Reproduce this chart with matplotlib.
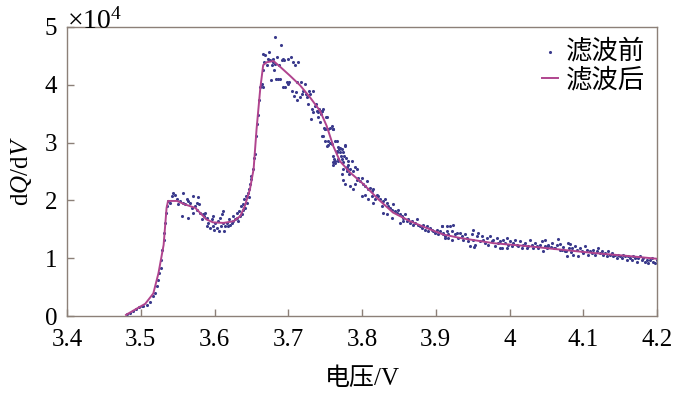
import numpy as np
import matplotlib
matplotlib.use("Agg")
import matplotlib.pyplot as plt

plt.rcParams['font.family'] = 'serif'
plt.rcParams['font.serif'] = ['Liberation Serif', 'DejaVu Serif']
plt.rcParams['mathtext.fontset'] = 'custom'
plt.rcParams['mathtext.rm'] = 'Liberation Serif'
plt.rcParams['mathtext.it'] = 'Liberation Serif:italic'

# filtered curve (x in V, y in 1e4)
curve_v = [3.480, 3.499, 3.506, 3.517, 3.524, 3.531, 3.535, 3.537, 3.549, 3.560,
           3.574, 3.580, 3.589, 3.598, 3.612, 3.626, 3.635, 3.641, 3.648, 3.653,
           3.657, 3.662, 3.666, 3.671, 3.680, 3.689, 3.702, 3.716, 3.729, 3.743,
           3.752, 3.761, 3.770, 3.784, 3.802, 3.822, 3.842, 3.865, 3.888, 3.910,
           3.933, 3.978, 4.023, 4.068, 4.114, 4.159, 4.200]
curve_q = [0.02, 0.16, 0.21, 0.39, 0.74, 1.23, 1.87, 1.99, 1.99, 1.93,
           1.87, 1.79, 1.67, 1.62, 1.61, 1.64, 1.73, 1.90, 2.19, 2.54,
           3.23, 3.93, 4.34, 4.39, 4.41, 4.31, 4.16, 3.99, 3.79, 3.55,
           3.29, 2.94, 2.68, 2.48, 2.28, 2.02, 1.79, 1.64, 1.52, 1.41,
           1.35, 1.26, 1.21, 1.15, 1.09, 1.04, 0.99]

# raw points: rise
rise_v = [3.482, 3.486, 3.490, 3.494, 3.498, 3.501, 3.5035, 3.508, 3.5125, 3.517,
          3.519, 3.522, 3.524, 3.525, 3.527, 3.528, 3.529, 3.531, 3.5315, 3.533,
          3.534, 3.535]
rise_q = [0.03, 0.06, 0.09, 0.12, 0.15, 0.18, 0.17, 0.19, 0.25, 0.34,
          0.39, 0.52, 0.63, 0.74, 0.83, 0.97, 1.15, 1.32, 1.44, 1.61,
          1.79, 1.90]

# raw points: first plateau
plat_v = [3.5375, 3.5397, 3.5420, 3.5442, 3.5465, 3.5487, 3.5510, 3.5533, 3.5555, 3.5569,
          3.5578, 3.5600, 3.5623, 3.5646, 3.5646, 3.5668, 3.5691, 3.5713, 3.5713, 3.5736,
          3.5759, 3.5768, 3.5781, 3.5795, 3.5804, 3.5826, 3.5840, 3.5858, 3.5872, 3.5894,
          3.5903, 3.5917, 3.5939, 3.5962, 3.5976, 3.5985, 3.5998, 3.6007, 3.6030, 3.6052,
          3.6066, 3.6075, 3.6089, 3.6098, 3.6111, 3.6120, 3.6129, 3.6143, 3.6165, 3.6188,
          3.6202, 3.6211, 3.6233, 3.6247, 3.6256, 3.6278, 3.6301, 3.6310, 3.6324, 3.6337,
          3.6346, 3.6355, 3.6369, 3.6382, 3.6391, 3.6400, 3.6414, 3.6428, 3.6437, 3.6450,
          3.6464, 3.6473, 3.6482, 3.6491]
plat_q = [1.99, 1.96, 2.07, 2.13, 2.10, 2.02, 1.93, 1.99, 1.73, 2.13,
          1.96, 1.93, 2.02, 1.99, 1.70, 1.96, 1.87, 2.07, 1.78, 1.90,
          1.96, 1.84, 2.05, 1.93, 1.78, 1.67, 1.76, 1.73, 1.78, 1.70,
          1.55, 1.61, 1.52, 1.67, 1.55, 1.73, 1.49, 1.61, 1.52, 1.64,
          1.47, 1.70, 1.55, 1.76, 1.61, 1.81, 1.47, 1.55, 1.61, 1.55,
          1.67, 1.58, 1.61, 1.73, 1.64, 1.67, 1.70, 1.78, 1.64, 1.81,
          1.73, 1.90, 1.76, 1.84, 1.93, 2.02, 1.87, 2.07, 1.96, 2.13,
          2.05, 2.19, 2.28, 2.37]

# raw points: main peak
peak_v = [3.6491, 3.6518, 3.6536, 3.6549, 3.6563, 3.6581, 3.6595, 3.6608, 3.6617, 3.6626,
          3.6640, 3.6653, 3.6662, 3.6671, 3.6685, 3.6653, 3.6708, 3.6730, 3.6744, 3.6753,
          3.6762, 3.6775, 3.6789, 3.6798, 3.6807, 3.6821, 3.6821, 3.6834, 3.6852, 3.6866,
          3.6879, 3.6888, 3.6897, 3.6911, 3.6925, 3.6934, 3.6947, 3.6956, 3.6979, 3.6992,
          3.7001, 3.7015, 3.7033, 3.7047, 3.7069, 3.7083, 3.7092, 3.7105, 3.7114, 3.7123,
          3.7137, 3.7160, 3.7173, 3.7182, 3.7205, 3.7227, 3.7241, 3.7250, 3.7273, 3.7286,
          3.7295, 3.7309, 3.7318, 3.7331, 3.7340, 3.7363, 3.7377, 3.7386, 3.7399, 3.7408,
          3.7422, 3.7431, 3.7444, 3.7453, 3.7467, 3.7485, 3.7499, 3.7512, 3.7521, 3.7544,
          3.7566, 3.7589, 3.7603, 3.7612, 3.7625, 3.7634, 3.7657, 3.7666, 3.7679, 3.7693,
          3.7702, 3.7725, 3.7738, 3.7756, 3.7770, 3.7783, 3.7792, 3.7801, 3.7815, 3.7828,
          3.7603]
peak_q = [2.43, 2.54, 2.74, 2.80, 3.12, 3.32, 3.47, 3.73, 3.96, 3.99,
          4.02, 3.96, 4.25, 4.39, 4.51, 4.54, 4.34, 4.45, 4.57, 4.42,
          4.09, 4.34, 4.39, 4.45, 4.25, 4.36, 4.83, 4.10, 4.48, 4.10,
          4.34, 4.10, 4.68, 4.42, 4.45, 3.96, 4.42, 3.96, 4.05, 4.02,
          4.45, 4.05, 4.48, 3.90, 4.39, 3.81, 4.34, 3.87, 3.73, 4.05,
          4.39, 3.78, 4.05, 3.84, 3.90, 4.02, 3.84, 3.78, 3.67, 3.90,
          3.84, 3.41, 3.58, 3.90, 3.52, 3.64, 3.67, 3.55, 3.44, 3.52,
          3.58, 3.35, 3.49, 3.55, 3.12, 3.26, 3.23, 3.44, 2.94, 3.03,
          3.26, 2.97, 3.23, 2.77, 2.71, 2.65, 3.03, 2.83, 2.68, 2.89,
          2.91, 2.71, 2.54, 2.77, 2.94, 2.74, 2.51, 2.57, 2.62, 2.45,
          2.62]

# raw points: decay
decay_v = [3.7454, 3.7476, 3.7521, 3.7454, 3.7499, 3.7544, 3.7589, 3.7612, 3.7499, 3.7544,
           3.7567, 3.7634, 3.7657, 3.7680, 3.7702, 3.7725, 3.7747, 3.7770, 3.7612, 3.7634,
           3.7680, 3.7711, 3.7738, 3.7815, 3.7860, 3.7725, 3.7747, 3.7793, 3.7838, 3.7883,
           3.7906, 3.7928, 3.7770, 3.7838, 3.7883, 3.7906, 3.7928, 3.7951, 3.7973, 3.7996,
           3.8019, 3.8041, 3.8064, 3.8086, 3.8109, 3.8132, 3.8154, 3.7996, 3.8041, 3.8086,
           3.8132, 3.8154, 3.8177, 3.8199, 3.8222, 3.8245, 3.8267, 3.8290, 3.8312, 3.8335,
           3.8358, 3.8380, 3.8403, 3.8425, 3.8448, 3.8471, 3.8493, 3.8516, 3.8538, 3.8561,
           3.8584, 3.8606, 3.8629, 3.8651, 3.8674, 3.8697, 3.8719, 3.8742, 3.8764, 3.8787,
           3.8810, 3.8832, 3.8855, 3.8877, 3.8900, 3.8923, 3.8945, 3.8968, 3.8990, 3.9013,
           3.9035, 3.9058, 3.9081, 3.9103, 3.9126, 3.9148, 3.9171, 3.8290, 3.8335, 3.8403,
           3.8516, 3.8561]
decay_q = [3.55, 3.58, 3.44, 3.12, 3.23, 3.23, 3.29, 3.23, 3.03, 2.95,
           3.00, 3.03, 2.86, 2.92, 2.83, 2.89, 2.83, 2.95, 2.66, 2.68,
           2.71, 2.77, 2.66, 2.68, 2.68, 2.45, 2.35, 2.54, 2.54, 2.51,
           2.57, 2.54, 2.28, 2.25, 2.19, 2.28, 2.35, 2.39, 2.34, 2.39,
           2.28, 2.25, 2.34, 2.19, 2.22, 2.16, 2.19, 2.08, 2.10, 2.02,
           2.08, 1.96, 2.02, 2.10, 2.08, 2.02, 1.90, 1.99, 2.02, 1.96,
           1.90, 1.87, 1.84, 1.93, 1.81, 1.78, 1.84, 1.76, 1.73, 1.70,
           1.76, 1.64, 1.67, 1.61, 1.64, 1.58, 1.61, 1.67, 1.58, 1.55,
           1.52, 1.58, 1.49, 1.55, 1.47, 1.52, 1.49, 1.47, 1.44, 1.49,
           1.41, 1.47, 1.55, 1.41, 1.38, 1.47, 1.35, 1.78, 1.76, 1.70,
           1.61, 1.64]

# raw points: tail
tail_v = [3.9081, 3.9148, 3.9194, 3.9230, 3.9216, 3.9103, 3.9126, 3.9171, 3.9216, 3.9261,
          3.9284, 3.9307, 3.9329, 3.9352, 3.9374, 3.9397, 3.9420, 3.9442, 3.9465, 3.9487,
          3.9501, 3.9510, 3.9533, 3.9555, 3.9578, 3.9600, 3.9623, 3.9646, 3.9668, 3.9691,
          3.9713, 3.9736, 3.9759, 3.9781, 3.9804, 3.9826, 3.9849, 3.9872, 3.9894, 3.9917,
          3.9939, 3.9962, 3.9985, 4.0007, 4.0030, 4.0052, 4.0075, 4.0098, 4.0120, 4.0143,
          4.0165, 4.0188, 4.0211, 4.0233, 4.0256, 4.0278, 4.0301, 4.0324, 4.0346, 4.0369,
          4.0391, 4.0414, 4.0437, 4.0459, 4.0482, 4.0504, 4.0527, 3.9524, 3.9872, 3.9962,
          4.0560, 4.0600, 4.0640, 4.0680, 4.0720, 4.0760, 4.0800, 4.0840,
          4.0481, 4.0526, 4.0571, 4.0617, 4.0662, 4.0684, 4.0707, 4.0752, 4.0775, 4.0797,
          4.0820, 4.0843, 4.0865, 4.0888, 4.0910, 4.0933, 4.0956, 4.0978, 4.1001, 4.1023,
          4.1046, 4.1069, 4.1091, 4.1114, 4.1136, 4.1159, 4.1182, 4.1204, 4.1227, 4.1249,
          4.1272, 4.1295, 4.1317, 4.1340, 4.1362, 4.1385, 4.1408, 4.1430, 4.1453, 4.1475,
          4.1498, 4.1521, 4.1543, 4.1566, 4.1588, 4.1611, 4.1634, 4.1656, 4.1679, 4.1701,
          4.1724, 4.1747, 4.1769, 4.1792, 4.1814, 4.1837, 4.1860, 4.1882, 4.1905, 4.1927,
          4.1950, 4.1973, 4.1995]
tail_q = [1.55, 1.55, 1.55, 1.58, 1.47, 1.44, 1.35, 1.41, 1.32, 1.41,
          1.44, 1.35, 1.44, 1.38, 1.32, 1.41, 1.35, 1.29, 1.21, 1.41,
          1.48, 1.32, 1.23, 1.38, 1.44, 1.29, 1.38, 1.32, 1.26, 1.35,
          1.23, 1.38, 1.29, 1.32, 1.21, 1.35, 1.26, 1.29, 1.18, 1.32,
          1.26, 1.35, 1.23, 1.29, 1.21, 1.26, 1.32, 1.23, 1.21, 1.29,
          1.18, 1.23, 1.26, 1.18, 1.21, 1.32, 1.23, 1.18, 1.26, 1.21,
          1.18, 1.23, 1.29, 1.12, 1.21, 1.18, 1.23, 1.19, 1.18, 1.18,
          1.20, 1.17, 1.22, 1.15, 1.19, 1.13, 1.18, 1.11,
          1.32, 1.21, 1.26, 1.18, 1.34, 1.24, 1.15, 1.12, 1.03, 1.26,
          1.24, 1.18, 1.06, 1.21, 1.15, 1.03, 1.18, 1.12, 1.09, 1.21,
          1.15, 1.06, 1.12, 1.09, 1.15, 1.06, 1.12, 1.18, 1.09, 1.12,
          1.06, 1.09, 1.03, 1.12, 1.06, 1.09, 1.03, 1.06, 1.00, 1.06,
          1.03, 1.00, 1.06, 1.03, 0.97, 1.03, 1.00, 0.97, 1.03, 1.00,
          0.94, 1.00, 1.03, 0.97, 1.00, 0.94, 0.97, 0.92, 0.97, 1.00,
          0.94, 0.92, 0.97]

raw_v = rise_v + plat_v + peak_v + decay_v + tail_v
raw_q = rise_q + plat_q + peak_q + decay_q + tail_q

spine_col = '#8c8078'
dot_col = '#3a3a8c'
line_col = '#b0448e'
cn_fam = ['Liberation Serif', 'Noto Sans CJK SC']

fig = plt.figure(figsize=(6.81, 3.96), dpi=100)
ax = fig.add_axes([0.0984, 0.202, 0.8664, 0.730])

ax.scatter(raw_v, raw_q, s=5, color=dot_col, linewidths=0, label='滤波前', zorder=2)
ax.plot(curve_v, curve_q, color=line_col, lw=1.4, label='滤波后', zorder=3)

ax.set_xlim(3.4, 4.2)
ax.set_ylim(0, 5)
ax.set_xticks([3.4, 3.5, 3.6, 3.7, 3.8, 3.9, 4.0, 4.1, 4.2])
ax.set_xticklabels(['3.4', '3.5', '3.6', '3.7', '3.8', '3.9', '4', '4.1', '4.2'])
ax.set_yticks([0, 1, 2, 3, 4, 5])

for s in ax.spines.values():
    s.set_color(spine_col)
    s.set_linewidth(1.0)
ax.tick_params(direction='in', length=5, width=1, color=spine_col, labelsize=18)
ax.tick_params(axis='x', pad=9)
ax.tick_params(axis='y', pad=7)
for lab in ax.get_xticklabels() + ax.get_yticklabels():
    lab.set_family('Liberation Serif')

ax.set_xlabel('电压/V', fontsize=18, labelpad=12, family=cn_fam)
ax.set_ylabel('d$Q$/d$V$', fontsize=18, labelpad=8)
ax.text(0.0, 0.995, '×10$^4$', transform=ax.transAxes, fontsize=20,
        ha='left', va='baseline', family='Liberation Serif')

leg = ax.legend(loc='upper right', frameon=False,
                handlelength=0.6, handletextpad=0.3, labelspacing=0.15,
                borderaxespad=0.05, markerscale=1.0,
                prop={'family': cn_fam, 'size': 19})

fig.savefig('out.png', dpi=100)
